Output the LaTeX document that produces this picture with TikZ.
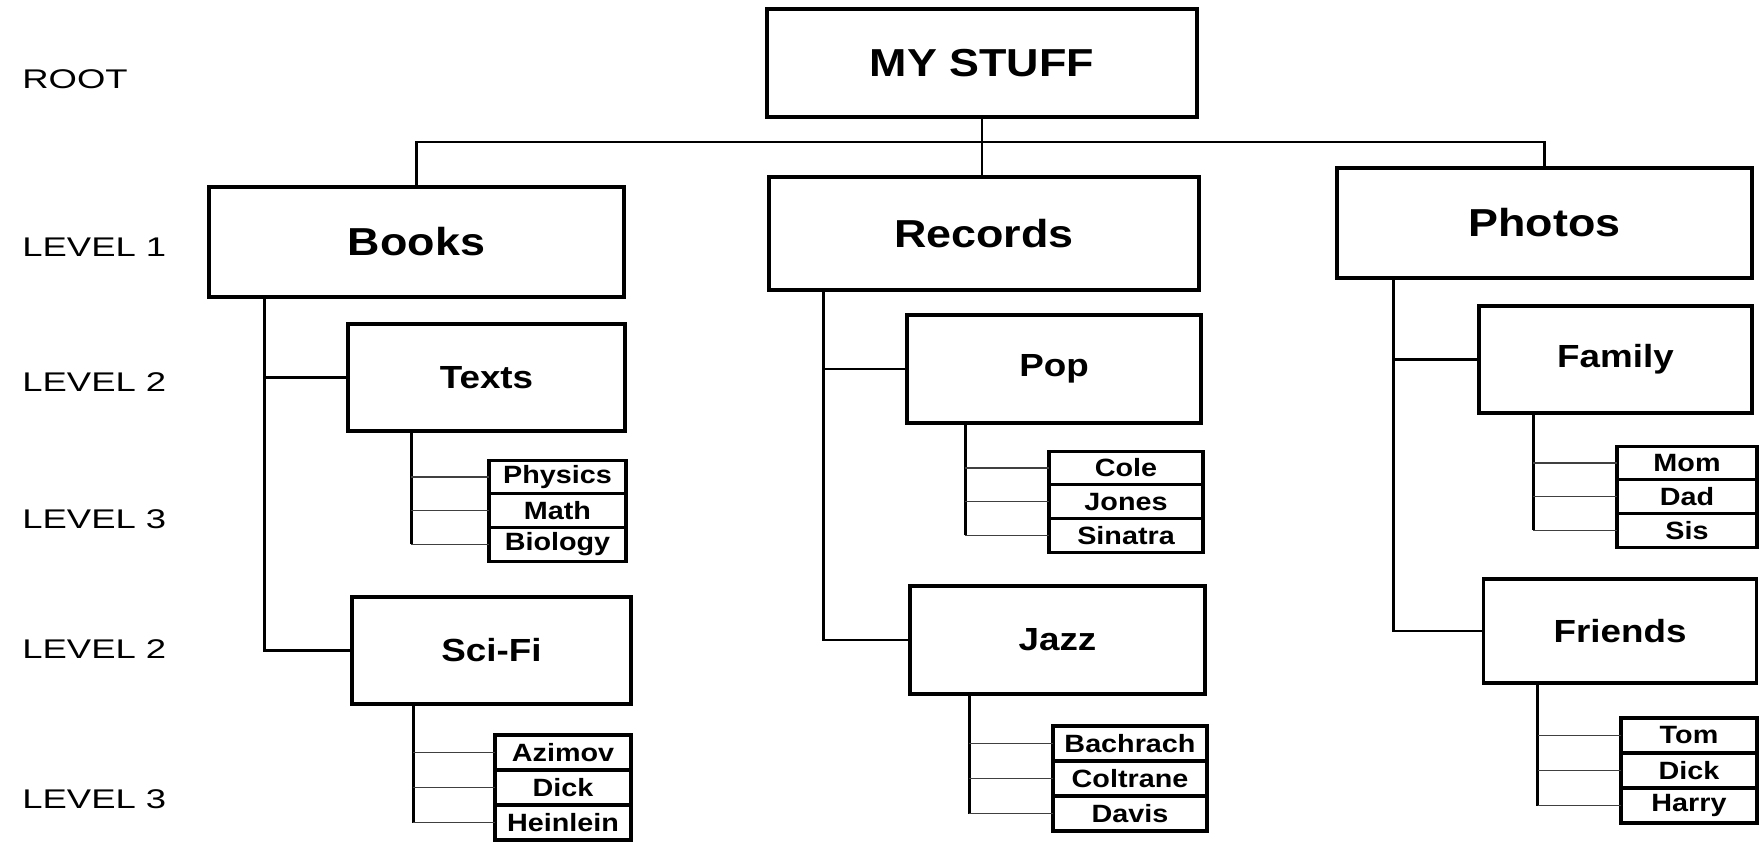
\documentclass[tikz,border=0pt]{standalone}
\usepackage{fontspec}
\setmainfont{Liberation Sans}[FakeStretch=1.15]
\newfontfamily\labelfont{Liberation Sans}[FakeStretch=1.35]
\begin{document}
\begin{tikzpicture}[x=0.5pt,y=-0.5pt,
  box/.style={draw, line width=1.8pt, inner sep=0pt, align=center, fill=white},
  lone/.style={box, font=\fontsize{19.5}{22}\selectfont\bfseries},
  ltwo/.style={box, font=\fontsize{16}{18}\selectfont\bfseries},
  leaf/.style={box, line width=1.6pt, outer sep=0pt, font=\fontsize{12.5}{13}\selectfont\bfseries},
  lvl/.style={anchor=west, inner sep=0pt, font=\labelfont\fontsize{13.5}{15}\selectfont},
  conn/.style={line width=1.3pt},
  lconn/.style={line width=0.8pt, black!75}]
\fill[white] (0,0) rectangle (1760,849);
\useasboundingbox (0,0) rectangle (1760,849);

% level labels
\node[lvl] (lroot) at (22,79) {ROOT};
\node[lvl] (lone) at (22,247) {LEVEL 1};
\node[lvl] (ltwoa) at (22,382) {LEVEL 2};
\node[lvl] (lthreea) at (22,519) {LEVEL 3};
\node[lvl] (ltwob) at (22,649) {LEVEL 2};
\node[lvl] (lthreeb) at (22,799) {LEVEL 3};

% root and level 1
\node[lone, minimum width=215pt, minimum height=54pt] (root) at (982,63) {MY STUFF};
\node[lone, minimum width=207.5pt, minimum height=55pt] (books) at (416.5,242) {Books};
\node[lone, minimum width=215pt, minimum height=56.5pt] (records) at (984,233.5) {Records};
\node[lone, minimum width=207.5pt, minimum height=55pt] (photos) at (1544.5,223) {Photos};

\coordinate (bar) at (0,142);
\draw[conn] (root.south) -- (root.south |- records.north);
\draw[conn] (books.north) -- (books.north |- bar) -- (photos.north |- bar) -- (photos.north);

% level 2
\node[ltwo, minimum width=138.5pt, minimum height=53.5pt] (texts) at (486.5,377.5) {Texts};
\node[ltwo, minimum width=139.5pt, minimum height=53.5pt] (scifi) at (491.5,650.5) {Sci-Fi};
\node[ltwo, minimum width=147pt, minimum height=54pt] (pop) at (1054,369) {Pop};
\node[ltwo, minimum width=147.5pt, minimum height=54pt] (jazz) at (1057.5,640) {Jazz};
\node[ltwo, minimum width=136.5pt, minimum height=53.5pt] (family) at (1615.5,359.5) {Family};
\node[ltwo, minimum width=136.5pt, minimum height=52pt] (friends) at (1620,631) {Friends};

\coordinate (bv) at ([xshift=28.5pt]books.south west);
\coordinate (rv) at ([xshift=28pt]records.south west);
\coordinate (pv) at ([xshift=29pt]photos.south west);
\draw[conn] (bv) |- (scifi.west);
\draw[conn] (bv |- texts.west) -- (texts.west);
\draw[conn] (rv) |- (jazz.west);
\draw[conn] (rv |- pop.west) -- (pop.west);
\draw[conn] (pv) |- (friends.west);
\draw[conn] (pv |- family.west) -- (family.west);

% leaves: Texts
\node[leaf, minimum width=68.5pt, minimum height=16.85pt] (t1) at (557.5,477) {Physics};
\node[leaf, minimum width=68.5pt, minimum height=16.85pt, anchor=north] (t2) at (t1.south) {Math};
\node[leaf, minimum width=68.5pt, minimum height=16.85pt, anchor=north] (t3) at (t2.south) {Biology};
% leaves: Sci-Fi
\node[leaf, minimum width=68pt, minimum height=17.5pt] (s1) at (563,752.5) {Azimov};
\node[leaf, minimum width=68pt, minimum height=17.5pt, anchor=north] (s2) at (s1.south) {Dick};
\node[leaf, minimum width=68pt, minimum height=17.5pt, anchor=north] (s3) at (s2.south) {Heinlein};
% leaves: Pop
\node[leaf, minimum width=77pt, minimum height=16.85pt] (p1) at (1126,468) {Cole};
\node[leaf, minimum width=77pt, minimum height=16.85pt, anchor=north] (p2) at (p1.south) {Jones};
\node[leaf, minimum width=77pt, minimum height=16.85pt, anchor=north] (p3) at (p2.south) {Sinatra};
% leaves: Jazz
\node[leaf, minimum width=77pt, minimum height=17.5pt] (j1) at (1130,743.5) {Bachrach};
\node[leaf, minimum width=77pt, minimum height=17.5pt, anchor=north] (j2) at (j1.south) {Coltrane};
\node[leaf, minimum width=77pt, minimum height=17.5pt, anchor=north] (j3) at (j2.south) {Davis};
% leaves: Family
\node[leaf, minimum width=70pt, minimum height=16.85pt] (f1) at (1687,463) {Mom};
\node[leaf, minimum width=70pt, minimum height=16.85pt, anchor=north] (f2) at (f1.south) {Dad};
\node[leaf, minimum width=70pt, minimum height=16.85pt, anchor=north] (f3) at (f2.south) {Sis};
% leaves: Friends
\node[leaf, minimum width=68pt, minimum height=17.5pt] (r1) at (1689,735.5) {Tom};
\node[leaf, minimum width=68pt, minimum height=17.5pt, anchor=north] (r2) at (r1.south) {Dick};
\node[leaf, minimum width=68pt, minimum height=17.5pt, anchor=north] (r3) at (r2.south) {Harry};

% leaf connectors
\coordinate (tv) at ([xshift=32.5pt]texts.south west);
\coordinate (sv) at ([xshift=31.5pt]scifi.south west);
\coordinate (ov) at ([xshift=30pt]pop.south west);
\coordinate (jv) at ([xshift=30.5pt]jazz.south west);
\coordinate (fv) at ([xshift=28pt]family.south west);
\coordinate (dv) at ([xshift=28pt]friends.south west);

\draw[conn] (tv) -- (tv |- t3.west);
\draw[lconn] (tv |- t1.west) -- (t1.west);
\draw[lconn] (tv |- t2.west) -- (t2.west);
\draw[lconn] (tv |- t3.west) -- (t3.west);

\draw[conn] (sv) -- (sv |- s3.west);
\draw[lconn] (sv |- s1.west) -- (s1.west);
\draw[lconn] (sv |- s2.west) -- (s2.west);
\draw[lconn] (sv |- s3.west) -- (s3.west);

\draw[conn] (ov) -- (ov |- p3.west);
\draw[lconn] (ov |- p1.west) -- (p1.west);
\draw[lconn] (ov |- p2.west) -- (p2.west);
\draw[lconn] (ov |- p3.west) -- (p3.west);

\draw[conn] (jv) -- (jv |- j3.west);
\draw[lconn] (jv |- j1.west) -- (j1.west);
\draw[lconn] (jv |- j2.west) -- (j2.west);
\draw[lconn] (jv |- j3.west) -- (j3.west);

\draw[conn] (fv) -- (fv |- f3.west);
\draw[lconn] (fv |- f1.west) -- (f1.west);
\draw[lconn] (fv |- f2.west) -- (f2.west);
\draw[lconn] (fv |- f3.west) -- (f3.west);

\draw[conn] (dv) -- (dv |- r3.west);
\draw[lconn] (dv |- r1.west) -- (r1.west);
\draw[lconn] (dv |- r2.west) -- (r2.west);
\draw[lconn] (dv |- r3.west) -- (r3.west);
\end{tikzpicture}
\end{document}
